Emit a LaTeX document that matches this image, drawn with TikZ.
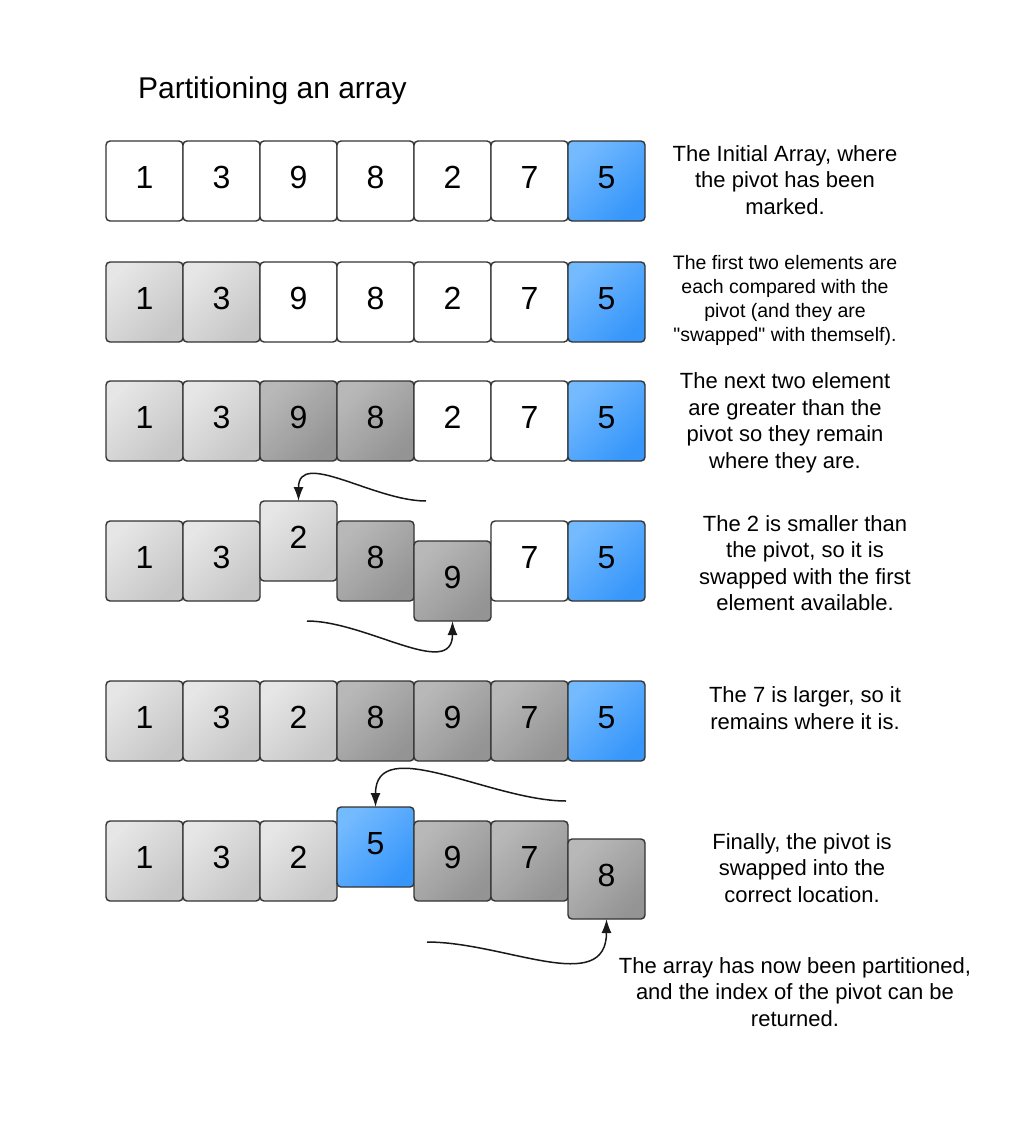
\documentclass[tikz,border=0pt]{standalone}
\usepackage{fontspec}
\setmainfont{Liberation Sans}
\usetikzlibrary{positioning,arrows.meta}

\definecolor{lightA}{HTML}{E6E6E6}
\definecolor{lightB}{HTML}{C6C6C6}
\definecolor{darkA}{HTML}{B8B8B8}
\definecolor{darkB}{HTML}{949494}
\definecolor{blueA}{HTML}{74BAFF}
\definecolor{blueB}{HTML}{3696FA}

\tikzset{
	cell/.style={draw=black!80, line width=1.4pt, rounded corners=4pt, minimum width=77pt, minimum height=80pt, inner sep=0pt, outer sep=0pt, text depth=8pt, font=\fontsize{32}{38}\selectfont},
	plain/.style={cell, fill=white},
	done/.style={cell, top color=lightA, bottom color=lightB, shading angle=45},
	big/.style={cell, top color=darkA, bottom color=darkB, shading angle=45},
	pivot/.style={cell, top color=blueA, bottom color=blueB, shading angle=45},
	note/.style={align=center, inner sep=0pt, font=\fontsize{22}{26.5}\selectfont},
	swap/.style={draw=black!90, line width=1.5pt, -{Latex[length=14pt,width=10pt]}}
}

\begin{document}
\begin{tikzpicture}[x=1pt,y=-1pt]
				\useasboundingbox (0,0) rectangle (1014,1132);
				\node[anchor=base west, inner sep=0pt, font=\fontsize{30}{36}\selectfont] (title) at (138,98) {Partitioning an array};
				\node[plain] (a1) at (144.5,181) {1};
				\node[plain] (b1) at (221.5,181) {3};
				\node[plain] (c1) at (298.5,181) {9};
				\node[plain] (d1) at (375.5,181) {8};
				\node[plain] (e1) at (452.5,181) {2};
				\node[plain] (f1) at (529.5,181) {7};
				\node[pivot] (g1) at (606.5,181) {5};
				\node[done] (a2) at (144.5,302) {1};
				\node[done] (b2) at (221.5,302) {3};
				\node[plain] (c2) at (298.5,302) {9};
				\node[plain] (d2) at (375.5,302) {8};
				\node[plain] (e2) at (452.5,302) {2};
				\node[plain] (f2) at (529.5,302) {7};
				\node[pivot] (g2) at (606.5,302) {5};
				\node[done] (a3) at (144.5,421) {1};
				\node[done] (b3) at (221.5,421) {3};
				\node[big] (c3) at (298.5,421) {9};
				\node[big] (d3) at (375.5,421) {8};
				\node[plain] (e3) at (452.5,421) {2};
				\node[plain] (f3) at (529.5,421) {7};
				\node[pivot] (g3) at (606.5,421) {5};
				\node[done] (a4) at (144.5,561) {1};
				\node[done] (b4) at (221.5,561) {3};
				\node[done] (c4) at (298.5,541) {2};
				\node[big] (d4) at (375.5,561) {8};
				\node[big] (e4) at (452.5,581) {9};
				\node[plain] (f4) at (529.5,561) {7};
				\node[pivot] (g4) at (606.5,561) {5};
				\node[done] (a5) at (144.5,721) {1};
				\node[done] (b5) at (221.5,721) {3};
				\node[done] (c5) at (298.5,721) {2};
				\node[big] (d5) at (375.5,721) {8};
				\node[big] (e5) at (452.5,721) {9};
				\node[big] (f5) at (529.5,721) {7};
				\node[pivot] (g5) at (606.5,721) {5};
				\node[done] (a6) at (144.5,861) {1};
				\node[done] (b6) at (221.5,861) {3};
				\node[done] (c6) at (298.5,861) {2};
				\node[pivot] (d6) at (375.5,847) {5};
				\node[big] (e6) at (452.5,861) {9};
				\node[big] (f6) at (529.5,861) {7};
				\node[big] (g6) at (606.5,879) {8};
				\node[note] (t1) at (785,180) {The Initial Array, where\\the pivot has been\\marked.};
				\node[note, font=\fontsize{19.5}{24}\selectfont] (t2) at (785,300) {The first two elements are\\each compared with the\\pivot (and they are\\\textquotedbl swapped\textquotedbl{} with themself).};
				\node[note] (t3) at (785,423) {The next two element\\are greater than the\\pivot so they remain\\where they are.};
				\node[note] (t4) at (805,563) {The 2 is smaller than\\the pivot, so it is\\swapped with the first\\element available.};
				\node[note] (t5) at (805,708) {The 7 is larger, so it\\remains where it is.};
				\node[note] (t6) at (802,868) {Finally, the pivot is\\swapped into the\\correct location.};
				\node[note] (t7) at (795,992) {The array has now been partitioned,\\and the index of the pivot can be\\returned.};
				\coordinate (s1) at (426,501);
				\coordinate (s2) at (307,621);
				\coordinate (s3) at (566,801);
				\coordinate (s4) at (427,942);
				\draw[swap] (s1) to[out=180,in=90,looseness=1.05] (c4.north);
				\draw[swap] (s2) to[out=0,in=-90,looseness=1.05] (e4.south);
				\draw[swap] (s3) to[out=180,in=90,looseness=1.0] (d6.north);
				\draw[swap] (s4) to[out=0,in=-90,looseness=1.1] (g6.south);
\end{tikzpicture}
\end{document}
